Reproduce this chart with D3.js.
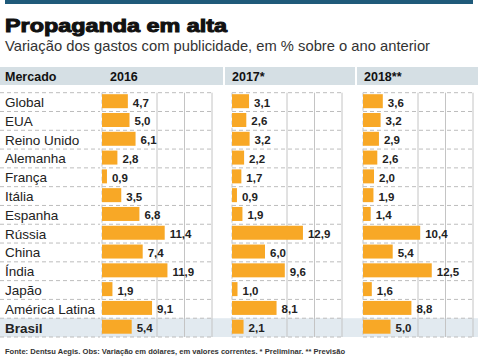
<!DOCTYPE html>
<html>
<head>
<meta charset="utf-8">
<script src="https://cdn.jsdelivr.net/npm/d3@7"></script>
<style>
  body { margin: 0; background: #fff; }
  svg { display: block; font-family: "Liberation Sans", Arial, sans-serif; }
</style>
</head>
<body>
<div class="chart"></div>
<script>
// dados
const mercados = ["Global", "EUA", "Reino Unido", "Alemanha", "França", "Itália", "Espanha",
    "Rússia", "China", "Índia", "Japão", "América Latina", "Brasil"];
const anos = ["2016", "2017*", "2018**"];
const v2016 = [4.7, 5.0, 6.1, 2.8, 0.9, 3.5, 6.8, 11.4, 7.4, 11.9, 1.9, 9.1, 5.4];
const v2017 = [3.1, 2.6, 3.2, 2.2, 1.7, 0.9, 1.9, 12.9, 6.0, 9.6, 1.0, 8.1, 2.1];
const v2018 = [3.6, 3.2, 2.9, 2.6, 2.0, 1.9, 1.4, 10.4, 5.4, 12.5, 1.6, 8.8, 5.0];
const gridTicks = [10, 15, 20];

const series = [v2016, v2017, v2018];

const width = 480;
const height = 360;

// layout
const panelX = [102, 232, 363];
const headerX = [110, 232, 364];
const bandX = [[0, 223], [225, 355], [357, 478]];
const panelW = 110;

const svg = d3.select(".chart")
    .append("svg")
    .attr("width", width)
    .attr("height", height);

const fmt = v => d3.format(".1f")(v).replace(".", ",");

const xScale = d3.scaleLinear()
    .domain([0, 20])
    .range([0, panelW]);

const yScale = d3.scaleBand()
    .domain(mercados)
    .range([92.7, 337]);

// faixa azul no topo
svg.append("rect")
    .attr("x", 5).attr("y", 0)
    .attr("width", 468).attr("height", 4)
    .attr("fill", "#1f5a7a");

svg.append("text")
    .attr("x", 5).attr("y", 32)
    .attr("font-size", 18.5)
    .attr("font-weight", 900)
    .attr("fill", "#111")
    .attr("stroke", "#111")
    .attr("stroke-width", 1)
    .attr("textLength", 222)
    .attr("lengthAdjust", "spacingAndGlyphs")
    .text("Propaganda em alta");

svg.append("text")
    .attr("x", 5).attr("y", 50.5)
    .attr("font-size", 15)
    .attr("fill", "#333")
    .attr("textLength", 425)
    .attr("lengthAdjust", "spacingAndGlyphs")
    .text("Variação dos gastos com publicidade, em % sobre o ano anterior");

// cabeçalho
svg.selectAll("rect.header")
    .data(bandX)
    .enter()
    .append("rect")
    .attr("class", "header")
    .attr("x", d => d[0])
    .attr("y", 67)
    .attr("width", d => d[1] - d[0])
    .attr("height", 18)
    .attr("fill", "#d5dfe4");

svg.append("text")
    .attr("x", 5).attr("y", 81)
    .attr("font-size", 12.5)
    .attr("font-weight", "bold")
    .attr("fill", "#111")
    .text("Mercado");

svg.selectAll("text.ano")
    .data(anos)
    .enter()
    .append("text")
    .attr("class", "ano")
    .attr("x", (d, i) => headerX[i])
    .attr("y", 81)
    .attr("font-size", 12.5)
    .attr("font-weight", "bold")
    .attr("fill", "#111")
    .text(d => d);

// linha do Brasil em destaque
svg.append("rect")
    .attr("x", 0)
    .attr("y", yScale("Brasil"))
    .attr("width", 478)
    .attr("height", yScale.bandwidth())
    .attr("fill", "#e2eaf0");

// linhas tracejadas horizontais
const rowLines = mercados.map(d => yScale(d)).concat([yScale.range()[1]]);
const segments = [[0, 100]].concat(panelX.map(x => [x, x + panelW]));

segments.forEach(s => {
    svg.append("g")
        .selectAll("line")
        .data(rowLines)
        .enter()
        .append("line")
        .attr("x1", s[0]).attr("x2", s[1])
        .attr("y1", d => d).attr("y2", d => d)
        .attr("stroke", "#bdbdbd")
        .attr("stroke-width", 1)
        .attr("stroke-dasharray", "4,3");
});

// painéis
series.forEach((values, p) => {
    const g = svg.append("g")
        .attr("transform", `translate(${panelX[p]}, 0)`);

    g.selectAll("line.grid")
        .data(gridTicks)
        .enter()
        .append("line")
        .attr("class", "grid")
        .attr("x1", d => xScale(d)).attr("x2", d => xScale(d))
        .attr("y1", yScale.range()[0]).attr("y2", yScale.range()[1])
        .attr("stroke", "#c4c4c4")
        .attr("stroke-width", 1);

    g.append("line")
        .attr("x1", xScale(0)).attr("x2", xScale(0))
        .attr("y1", yScale.range()[0]).attr("y2", yScale.range()[1])
        .attr("stroke", "#c4c4c4")
        .attr("stroke-dasharray", "4,3");

    g.selectAll("rect.bar")
        .data(values)
        .enter()
        .append("rect")
        .attr("class", "bar")
        .attr("x", xScale(0))
        .attr("y", (d, i) => yScale(mercados[i]) + 1.5)
        .attr("width", d => xScale(d) - xScale(0))
        .attr("height", 14)
        .attr("fill", "#f8a826");

    g.selectAll("text.valor")
        .data(values)
        .enter()
        .append("text")
        .attr("class", "valor")
        .attr("x", d => xScale(d) + 5)
        .attr("y", (d, i) => yScale(mercados[i]) + yScale.bandwidth() / 2 + 4.5)
        .attr("font-size", 11.5)
        .attr("font-weight", "bold")
        .attr("fill", "#222")
        .text(d => fmt(d));
});

// rótulos dos mercados
svg.selectAll("text.mercado")
    .data(mercados)
    .enter()
    .append("text")
    .attr("class", "mercado")
    .attr("x", 5)
    .attr("y", d => yScale(d) + yScale.bandwidth() / 2 + 5)
    .attr("font-size", 13.5)
    .attr("font-weight", d => d === "Brasil" ? "bold" : "normal")
    .attr("fill", "#222")
    .text(d => d);

// fonte
svg.append("text")
    .attr("x", 5).attr("y", 354)
    .attr("font-size", 8)
    .attr("font-weight", "bold")
    .attr("fill", "#333")
    .attr("textLength", 340)
    .attr("lengthAdjust", "spacingAndGlyphs")
    .text("Fonte: Dentsu Aegis. Obs: Variação em dólares, em valores correntes. * Preliminar. ** Previsão");
</script>
</body>
</html>
